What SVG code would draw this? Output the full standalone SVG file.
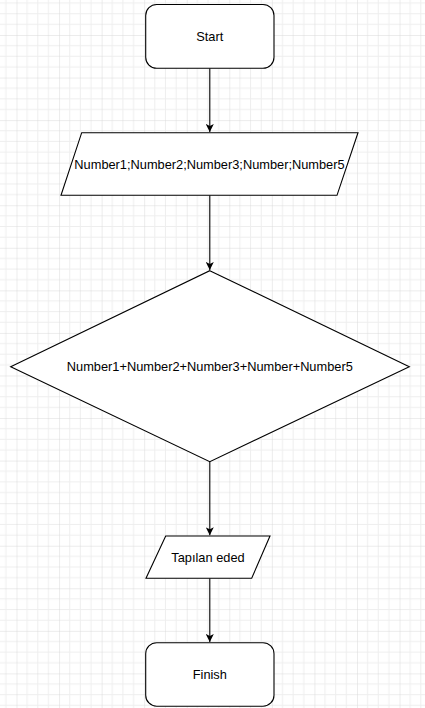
<svg xmlns="http://www.w3.org/2000/svg" width="425" height="708" viewBox="0 0 425 708">
<defs>
<pattern id="grid" x="16.5" y="35" width="42.56" height="42.56" patternUnits="userSpaceOnUse">
<path d="M10.64 0V42.56M21.28 0V42.56M31.92 0V42.56M0 10.64H42.56M0 21.28H42.56M0 31.92H42.56" stroke="#eeeeee" stroke-width="1" fill="none"/>
<path d="M0 0V42.56M0 0H42.56" stroke="#d9d9d9" stroke-width="1" fill="none"/>
</pattern>
<marker id="arrow" viewBox="0 0 10 10" refX="10" refY="5" markerWidth="8" markerHeight="8" markerUnits="userSpaceOnUse" orient="auto">
<path d="M0 0L10 5L0 10L2.5 5Z" fill="#000"/>
</marker>
<style>
.shape{fill:#fff;stroke:#000;stroke-width:1.1}
.conn{fill:none;stroke:#000;stroke-width:1.1}
.label{font-family:"Liberation Sans",Arial,sans-serif;font-size:12.8px;fill:#000;text-anchor:middle}
</style>
</defs>
<rect width="425" height="708" fill="#fff"/>
<rect width="425" height="708" fill="url(#grid)"/>
<g id="connectors">
<path class="conn" d="M209.8 68.3V132" marker-end="url(#arrow)"/>
<path class="conn" d="M209.8 195.3V270" marker-end="url(#arrow)"/>
<path class="conn" d="M209.8 461.7V535.3" marker-end="url(#arrow)"/>
<path class="conn" d="M209.8 578.3V642" marker-end="url(#arrow)"/>
</g>
<g id="start">
<rect class="shape" x="145.7" y="4.5" width="128.3" height="63.8" rx="11" ry="11"/>
<text class="label" x="209.8" y="41">Start</text>
</g>
<g id="input">
<polygon class="shape" points="81.7,132.7 358,132.7 337,195.3 61,195.3"/>
<text class="label" x="209.5" y="168.8">Number1;Number2;Number3;Number;Number5</text>
</g>
<g id="decision">
<polygon class="shape" points="209.8,270.7 409.3,366.7 209.8,461.7 10.7,366.7"/>
<text class="label" x="209.8" y="371.3">Number1+Number2+Number3+Number+Number5</text>
</g>
<g id="output">
<polygon class="shape" points="165.7,536 270,536 251.7,578.3 146,578.3"/>
<text class="label" x="208" y="561.8">Tapılan eded</text>
</g>
<g id="finish">
<rect class="shape" x="145.7" y="642.7" width="128.3" height="63.5" rx="11" ry="11"/>
<text class="label" x="209.8" y="679">Finish</text>
</g>
</svg>
